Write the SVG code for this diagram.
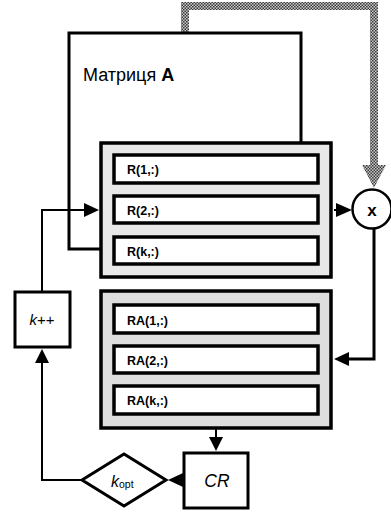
<svg xmlns="http://www.w3.org/2000/svg" width="391" height="515" viewBox="0 0 391 515">
<style>
.pl{stroke:#000;stroke-width:3.5}
.p1{fill:#e8e8e8}
.p2{fill:#dedede}
.row{fill:#fff;stroke:#000;stroke-width:3.5}
.lbl{font-family:"Liberation Sans",Arial,sans-serif;font-size:12.5px;font-weight:bold;fill:#000}
.ln{fill:none;stroke:#000;stroke-width:2}
.thk{fill:none;stroke:#000;stroke-width:3}
.box{fill:#fff;stroke:#000;stroke-width:3}
.it{font-family:"Liberation Sans",Arial,sans-serif;font-style:italic;fill:#000}
</style>
<defs>
<pattern id="chk" width="3" height="3" patternUnits="userSpaceOnUse">
<rect width="3" height="3" fill="#c8c8c8"/>
<rect width="1.5" height="1.5" fill="#3a3a3a"/>
<rect x="1.5" y="1.5" width="1.5" height="1.5" fill="#3a3a3a"/>
</pattern>
</defs>
<g id="connectors">
<path d="M185,33 V6 H374 V166" fill="none" stroke="url(#chk)" stroke-width="8"/>
<polygon points="362,165 386,165 374,188" fill="url(#chk)"/>
<path d="M100,249 H69 V33 H301 V143" class="thk" stroke-width="3.5"/>
<path d="M42,291 V210 H86" class="ln"/>
<polygon points="84,203 99,210 84,217" fill="#000"/>
<path d="M334,210 H338" class="ln"/>
<polygon points="336,203 352,210 336,217" fill="#000"/>
<path d="M374,229 V359 H348" class="thk"/>
<polygon points="349,352 334,359 349,366" fill="#000"/>
<path d="M216,429 V438" class="ln"/>
<polygon points="209,437 223,437 216,451" fill="#000"/>
<polygon points="183,473 168,480 183,487" fill="#000"/>
<path d="M82,480 H42 V362" class="ln"/>
<polygon points="35,363 42,349 49,363" fill="#000"/>
</g>
<g id="matrixA">
<text x="83" y="81" font-family="'Liberation Sans',Arial,sans-serif" font-size="18" fill="#000">Матриця <tspan font-weight="bold">A</tspan></text>
</g>
<g id="panelR">
<rect x="101" y="143" width="230" height="134" class="pl p1"/>
<rect x="114" y="155" width="204" height="28" class="row"/>
<text x="127" y="174" class="lbl">R(1,:)</text>
<rect x="114" y="196" width="204" height="27" class="row"/>
<text x="127" y="215" class="lbl">R(2,:)</text>
<rect x="114" y="237" width="204" height="27" class="row"/>
<text x="127" y="256" class="lbl">R(k,:)</text>
</g>
<g id="panelRA">
<rect x="101" y="291" width="230" height="137" class="pl p2"/>
<rect x="114" y="305" width="204" height="28" class="row"/>
<text x="127" y="325" class="lbl">RA(1,:)</text>
<rect x="114" y="346" width="204" height="27" class="row"/>
<text x="127" y="365" class="lbl">RA(2,:)</text>
<rect x="114" y="386" width="204" height="28" class="row"/>
<text x="127" y="405" class="lbl">RA(k,:)</text>
</g>
<g id="mult">
<circle cx="372" cy="209" r="19.5" fill="#fff" stroke="#000" stroke-width="2.5"/>
<text x="372" y="216" text-anchor="middle" font-family="'Liberation Sans',Arial,sans-serif" font-size="17" font-weight="bold" fill="#000">x</text>
</g>
<g id="kpp">
<rect x="15" y="292" width="55" height="55" class="box"/>
<text x="42" y="325" text-anchor="middle" font-family="'Liberation Sans',Arial,sans-serif" font-size="15" fill="#000"><tspan font-style="italic">k</tspan>++</text>
</g>
<g id="kopt">
<polygon points="82,480 124,454 166,480 124,506" class="box"/>
<text x="111" y="487" class="it" font-size="16">k<tspan font-style="normal" font-size="10.5" dy="1">opt</tspan></text>
</g>
<g id="cr">
<rect x="184" y="453" width="64" height="55" class="box"/>
<text x="217" y="487" text-anchor="middle" class="it" font-size="17.5">CR</text>
</g>
</svg>
